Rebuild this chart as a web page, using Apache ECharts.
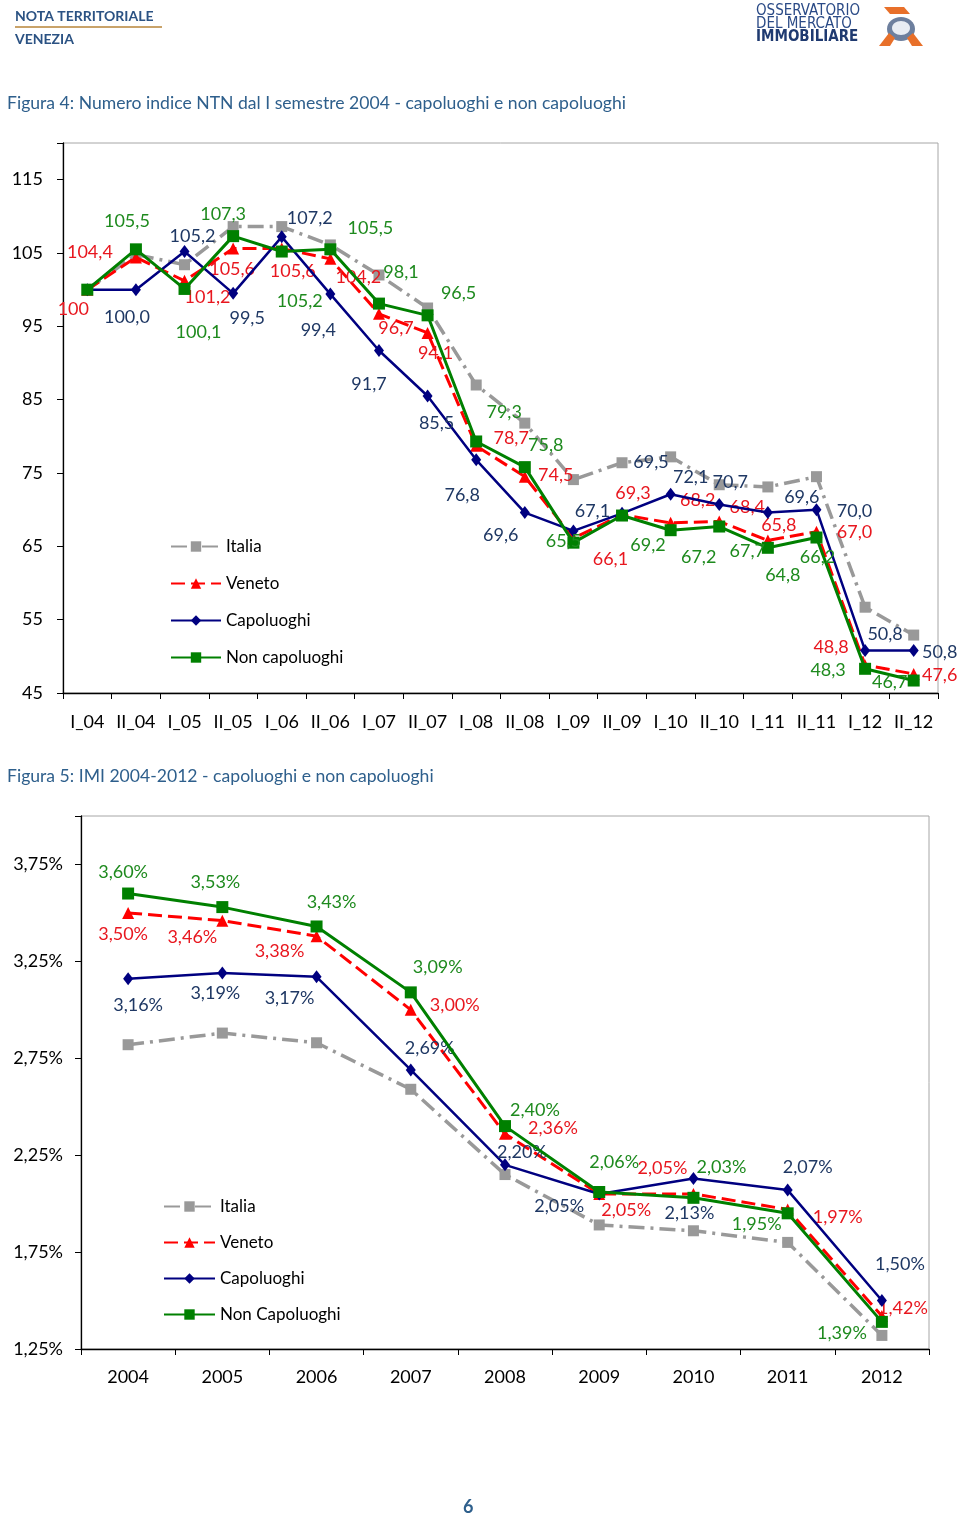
<!DOCTYPE html>
<html><head><meta charset="utf-8">
<script src="https://cdn.jsdelivr.net/npm/echarts@6/dist/echarts.min.js"></script>
<style>html,body{margin:0;padding:0;background:#fff}#c{width:960px;height:1521px}</style>
</head><body><div id="c"></div>
<script>
// ---------- DATA: Figura 4 (Numero indice NTN) ----------
const semestri = ['I_04','II_04','I_05','II_05','I_06','II_06','I_07','II_07','I_08','II_08','I_09','II_09','I_10','II_10','I_11','II_11','I_12','II_12'];
const italiaNTN     = [100, 104.8, 103.4, 108.6, 108.6, 106.1, 102.0, 97.5, 87.0, 81.8, 74.1, 76.4, 77.2, 73.4, 73.1, 74.5, 56.7, 52.9];
const venetoNTN     = [100, 104.4, 101.2, 105.6, 105.6, 104.2, 96.7, 94.1, 78.7, 74.5, 66.1, 69.3, 68.2, 68.4, 65.8, 67.0, 48.8, 47.6];
const capoluoghiNTN = [100, 100.0, 105.2, 99.5, 107.2, 99.4, 91.7, 85.5, 76.8, 69.6, 67.1, 69.5, 72.1, 70.7, 69.6, 70.0, 50.8, 50.8];
const nonCapNTN     = [100, 105.5, 100.1, 107.3, 105.2, 105.5, 98.1, 96.5, 79.3, 75.8, 65.5, 69.2, 67.2, 67.7, 64.8, 66.2, 48.3, 46.7];
const ticksNTN = [45, 55, 65, 75, 85, 95, 105, 115];

// ---------- DATA: Figura 5 (IMI) ----------
const anni = ['2004','2005','2006','2007','2008','2009','2010','2011','2012'];
const italiaIMI     = [2.82, 2.88, 2.83, 2.59, 2.15, 1.89, 1.86, 1.80, 1.32];
const venetoIMI     = [3.50, 3.46, 3.38, 3.00, 2.36, 2.05, 2.05, 1.97, 1.42];
const capoluoghiIMI = [3.16, 3.19, 3.17, 2.69, 2.20, 2.05, 2.13, 2.07, 1.50];
const nonCapIMI     = [3.60, 3.53, 3.43, 3.09, 2.40, 2.06, 2.03, 1.95, 1.39];
const ticksIMI = [1.25, 1.75, 2.25, 2.75, 3.25, 3.75];

// ---------- label placement (pixel offsets from each point) ----------
const offVenetoNTN = [[-14,20],[-46,-5],[23,16],[-1,21],[11,23],[28,18],[17,14],[8,20],[35,-8],[31,-1],[37,21],[11,-22],[27,-23],[28,-14],[11,-15],[38,1],[-34,-18],[26,1]];
const offCapNTN    = [null,[-9,28],[8,-15],[14,25],[28,-19],[-12,36],[-10,34],[9,27],[-14,35],[-24,23],[19,-20],[29,-51],[20,-17],[11,-22],[34,-15],[38,2],[20,-16],[26,2]];
const offNonCapNTN = [null,[-9,-28],[14,43],[-10,-22],[18,50],[40,-21],[22,-31],[31,-22],[28,-29],[21,-22],[-10,-1],[26,30],[28,27],[28,25],[15,27],[1,20],[-37,1],[-24,2]];
const offVenetoIMI = [[-5,21],[-30,17],[-37,15],[44,-5],[48,-6],[27,16],[-31,-26],[50,8],[21,-8]];
const offCapIMI    = [[10,26],[-7,20],[-27,21],[19,-22],[17,-13],[-40,12],[-4,35],[20,-23],[18,-36]];
const offNonCapIMI = [[-5,-21],[-7,-25],[15,-24],[27,-25],[30,-16],[15,-30],[28,-31],[-31,11],[-40,11]];

const FONT = 'Lato';
const fmt1 = (v, i) => i === 0 ? String(v) : v.toFixed(1).replace('.', ',');
const fmt2 = v => v.toFixed(2).replace('.', ',') + '%';

const styles = {
  italia: {color:'#999999', symbol:'rect', size:11, dash:[16,6,3,6], width:3.5, label:'#777'},
  veneto: {color:'#ff0000', symbol:'triangle', size:12, dash:[14,6], width:3, label:'#e8171f'},
  cap:    {color:'#000080', symbol:'diamond', size:[10,13], dash:'solid', width:2.5, label:'#1f3864'},
  noncap: {color:'#008000', symbol:'rect', size:12, dash:'solid', width:3, label:'#1e8a1e'}
};

function mk(name, vals, offs, st, idx, fmt, z) {
  return {
    name, type:'line', xAxisIndex:idx, yAxisIndex:idx,
    symbol:st.symbol, symbolSize:st.size, showAllSymbol:true,
    lineStyle:{color:st.color, width:st.width, type:st.dash},
    itemStyle:{color:st.color},
    emphasis:{disabled:true}, z:z,
    label:{show:!!offs, position:'inside', color:st.label, fontFamily:FONT, fontSize:18,
           textBorderWidth:0, formatter:p => fmt(p.value, p.dataIndex)},
    labelLayout: offs ? (p => { const o = offs[p.dataIndex]; return o ? {dx:o[0], dy:o[1], hideOverlap:false} : {}; }) : undefined,
    data: vals.map((v, i) => {
      const o = offs && offs[i];
      return {value:v, label: o ? {show:true} : {show:false}};
    })
  };
}

const axisTxt = {fontFamily:FONT, fontSize:18, color:'#000'};
const blackLine = {lineStyle:{color:'#000', width:1.3}};

const option = {
  animation:false,
  backgroundColor:'#fff',
  grid:[
    {left:63, top:143, width:875, height:550, show:true, borderColor:'#a6a6a6', borderWidth:1},
    {left:81, top:816, width:848, height:533, show:true, borderColor:'#a6a6a6', borderWidth:1}
  ],
  xAxis:[
    {type:'category', gridIndex:0, data:semestri, boundaryGap:true,
     axisLine:blackLine, axisTick:{show:true, length:6, lineStyle:{color:'#000'}},
     axisLabel:Object.assign({margin:20, interval:0}, axisTxt), splitLine:{show:false}},
    {type:'category', gridIndex:1, data:anni, boundaryGap:true,
     axisLine:blackLine, axisTick:{show:true, length:6, lineStyle:{color:'#000'}},
     axisLabel:Object.assign({margin:19, interval:0}, axisTxt), splitLine:{show:false}}
  ],
  yAxis:[
    {type:'value', gridIndex:0, min:45, max:120, interval:10,
     axisLine:Object.assign({show:true}, blackLine), axisTick:{show:true, length:6, lineStyle:{color:'#000'}},
     splitLine:{show:false},
     axisLabel:Object.assign({margin:20, formatter:v => ticksNTN.includes(v) ? String(v) : ''}, axisTxt)},
    {type:'value', gridIndex:1, min:1.25, max:4.0, interval:0.5,
     axisLine:Object.assign({show:true}, blackLine), axisTick:{show:true, length:6, lineStyle:{color:'#000'}},
     splitLine:{show:false},
     axisLabel:Object.assign({margin:18, formatter:v => ticksIMI.some(t => Math.abs(t - v) < 1e-9) ? fmt2(v) : ''}, axisTxt)}
  ],
  legend:[
    {orient:'vertical', left:165, top:533, itemWidth:50, itemHeight:13, itemGap:20,
     textStyle:{fontFamily:FONT, fontSize:17, color:'#000'},
     data:['Italia','Veneto','Capoluoghi','Non capoluoghi'], selectedMode:false},
    {orient:'vertical', left:158, top:1193, itemWidth:51, itemHeight:13, itemGap:19,
     textStyle:{fontFamily:FONT, fontSize:17, color:'#000'},
     data:['Italia ','Veneto ','Capoluoghi ','Non Capoluoghi'], selectedMode:false}
  ],
  series:[
    mk('Italia', italiaNTN, null, styles.italia, 0, fmt1, 2),
    mk('Veneto', venetoNTN, offVenetoNTN, styles.veneto, 0, fmt1, 3),
    mk('Capoluoghi', capoluoghiNTN, offCapNTN, styles.cap, 0, fmt1, 4),
    mk('Non capoluoghi', nonCapNTN, offNonCapNTN, styles.noncap, 0, fmt1, 5),
    mk('Italia ', italiaIMI, null, styles.italia, 1, fmt2, 2),
    mk('Veneto ', venetoIMI, offVenetoIMI, styles.veneto, 1, fmt2, 3),
    mk('Capoluoghi ', capoluoghiIMI, offCapIMI, styles.cap, 1, fmt2, 4),
    mk('Non Capoluoghi', nonCapIMI, offNonCapIMI, styles.noncap, 1, fmt2, 5)
  ],
  graphic:[
    {type:'text', left:15, top:9, style:{text:'NOTA TERRITORIALE', fill:'#2b5283', font:'bold 14px Lato'}},
    {type:'rect', shape:{x:15, y:26, width:147, height:2}, style:{fill:'#c9a36a'}},
    {type:'text', left:15, top:32, style:{text:'VENEZIA', fill:'#2b5283', font:'bold 14px Lato'}},
    {type:'text', left:756, top:4, style:{text:'OSSERVATORIO', fill:'#2a4a86', font:'15px "DejaVu Sans Condensed"'}},
    {type:'text', left:756, top:17, style:{text:'DEL MERCATO', fill:'#2a4a86', font:'15px "DejaVu Sans Condensed"'}},
    {type:'text', left:756, top:30, style:{text:'IMMOBILIARE', fill:'#1f3a70', font:'bold 15px "DejaVu Sans Condensed"'}},
    {type:'polygon', shape:{points:[[884,7],[904,7],[910,14],[890,14]]}, style:{fill:'#e8702a'}},
    {type:'ellipse', shape:{cx:901, cy:29, rx:14, ry:12}, style:{fill:'#6d7f9e'}},
    {type:'ellipse', shape:{cx:901, cy:28, rx:9, ry:7}, style:{fill:'#e8ecf3'}},
    {type:'polygon', shape:{points:[[879,46],[889,33],[895,38],[890,46]]}, style:{fill:'#e8702a'}},
    {type:'polygon', shape:{points:[[923,46],[913,33],[907,38],[912,46]]}, style:{fill:'#e8702a'}},
    {type:'text', left:7, top:94, style:{text:'Figura 4: Numero indice NTN dal I semestre 2004 - capoluoghi e non capoluoghi', fill:'#2e5f8c', font:'17.6px Lato'}},
    {type:'text', left:7, top:767, style:{text:'Figura 5: IMI 2004-2012 - capoluoghi e non capoluoghi', fill:'#2e5f8c', font:'17.6px Lato'}},
    {type:'text', left:463, top:1498, style:{text:'6', fill:'#2e5f8c', font:'bold 18px Lato'}}
  ]
};

const chart = echarts.init(document.getElementById('c'), null, {renderer:'canvas'});
chart.setOption(option);
</script>
</body></html>
